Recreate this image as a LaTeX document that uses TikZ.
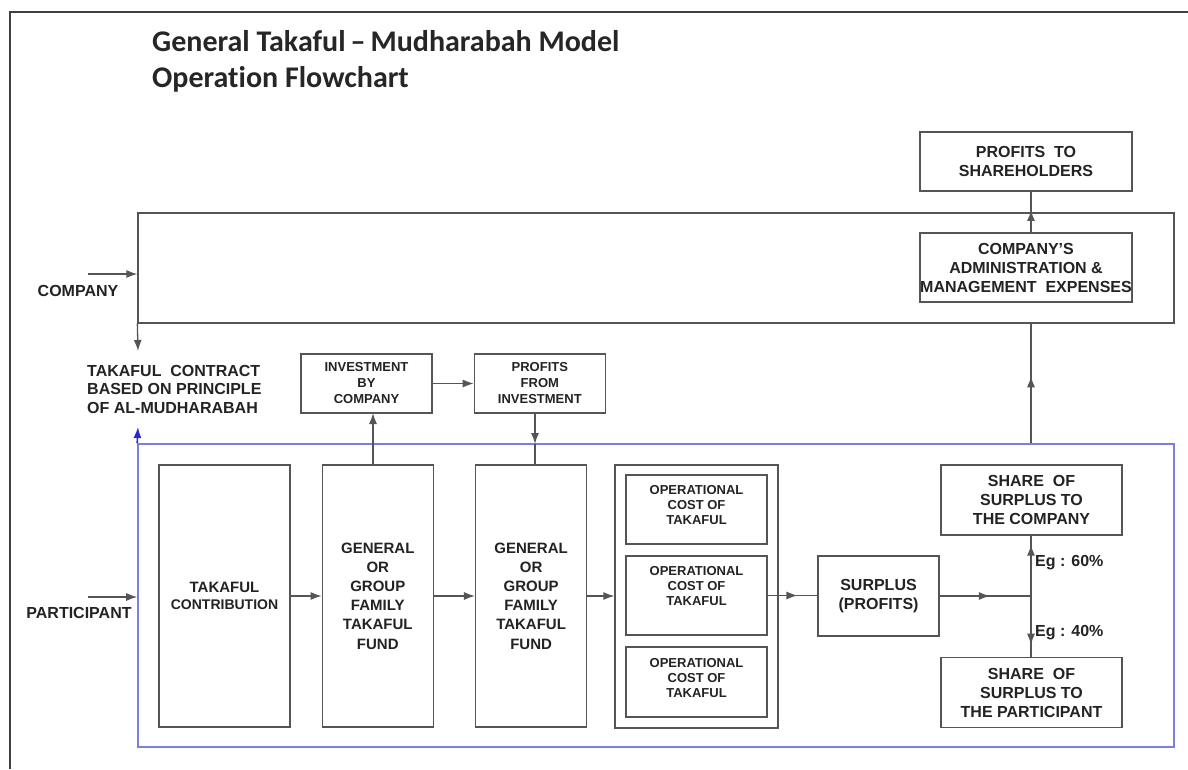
\documentclass[tikz,border=0pt]{standalone}
\usepackage{fontspec}
\setmainfont{Liberation Sans}
\newfontfamily\titlefont[Ligatures=NoCommon]{Carlito}
\usepackage{tikz}
\usetikzlibrary{arrows.meta,calc,positioning,decorations.markings}
\definecolor{boxgray}{RGB}{85,85,85}
\definecolor{txtgray}{RGB}{35,35,35}
\definecolor{partblue}{RGB}{125,125,230}
\definecolor{tipblue}{RGB}{40,40,215}
\tikzset{
        tip/.tip = {Latex[length=11pt,width=8pt]},
        block/.style = {draw=boxgray, rectangle, line width=1.3pt,
            text=txtgray, align=center, inner sep=0pt,
            font=\bfseries\fontsize{16}{19}\selectfont},
        fundbox/.style = {block, minimum width=111pt, minimum height=262pt,
            font=\bfseries\fontsize{15}{19.2}\selectfont},
        smallbox/.style = {block, minimum width=131pt, minimum height=59pt,
            font=\bfseries\fontsize{13}{16}\selectfont},
        costbox/.style = {block, minimum width=141pt,
            font=\bfseries\fontsize{13}{15}\selectfont},
        sharebox/.style = {block, minimum width=181pt, minimum height=70pt},
        sidetext/.style = {text=txtgray, inner sep=0pt,
            font=\bfseries\fontsize{16}{18.5}\selectfont},
        arrow/.style = {draw=boxgray, line width=1.3pt, -tip},
        line/.style = {draw=boxgray, line width=1.3pt},
        midarrow/.style = {line, decoration={markings,
            mark=at position #1 with {\arrow{tip}}}, postaction={decorate}},
    }

\begin{document}
\begin{tikzpicture}[x=1pt,y=-1pt]
    \useasboundingbox[fill=white] (0,0) rectangle (1188,769);
    \draw[line width=1.8pt, draw=black!75] (10,769) -- (10,12) -- (1188,12);

    % heading
    \node[anchor=base west, inner sep=0pt, text=black!85,
          font=\titlefont\bfseries\fontsize{30}{36}\selectfont] (title) at (152,51)
          {General Takaful\,–\,Mudharabah Model};
    \node[anchor=base west, inner sep=0pt, text=black!85,
          font=\titlefont\bfseries\fontsize{30}{36}\selectfont] (subtitle) at (152,87)
          {Operation Flowchart};

    % company and participant frames
    \node[draw=boxgray, line width=1.3pt, minimum width=1036pt, minimum height=110pt]
          (companybox) at (656,268) {};
    \node[draw=partblue, line width=1.6pt, minimum width=1036pt, minimum height=303pt]
          (bluebox) at (656,595.5) {};

    \node[sidetext] (companylbl) at (78,291) {COMPANY};
    \node[sidetext] (partlbl) at (79,613) {PARTICIPANT};
    \node[sidetext, anchor=west, align=left] (contract) at (87,389)
          {TAKAFUL\ \ CONTRACT\\BASED ON PRINCIPLE\\OF AL-MUDHARABAH};

    \coordinate (companyin) at (88,274);
    \coordinate (partin) at (88,597);
    \coordinate (contractin) at (138,351);
    \coordinate (contractout) at (138,427);

    % participant fund row
    \node[fundbox, minimum width=131pt, font=\bfseries\fontsize{15}{17}\selectfont]
          (contrib) at (224.5,596) {TAKAFUL\\\fontsize{14}{17}\selectfont CONTRIBUTION};
    \node[fundbox, right=31pt of contrib] (fundA)
          {GENERAL\\OR\\GROUP\\FAMILY\\TAKAFUL\\FUND};
    \node[fundbox, right=41pt of fundA] (fundB)
          {GENERAL\\OR\\GROUP\\FAMILY\\TAKAFUL\\FUND};
    \node[block, minimum width=163pt, minimum height=263pt] (opsbox) at (696.5,596.5) {};
    \node[costbox, minimum height=69pt] (opsA) at (696.5,509.5) {OPERATIONAL\\COST OF\\TAKAFUL\\[-6pt]};
    \node[costbox, minimum height=79pt] (opsB) at (696.5,595.5) {OPERATIONAL\\COST OF\\TAKAFUL\\[4pt]};
    \node[costbox, minimum height=70pt] (opsC) at (696.5,682) {OPERATIONAL\\COST OF\\TAKAFUL\\[-6pt]};
    \node[block, minimum width=121pt, minimum height=80pt] (surplus) at (878.5,596)
          {SURPLUS\\(PROFITS)};
    \node[sharebox] (shareco) at (1031.5,500) {SHARE\ \ OF\\SURPLUS\ TO\\THE COMPANY};
    \node[sharebox] (sharept) at (1031.5,692.5) {SHARE\ \ OF\\SURPLUS\ TO\\THE PARTICIPANT};
    \coordinate (split) at (1031,596);

    % investment
    \node[smallbox] (invest) at (366.5,383.5) {INVESTMENT\\BY\\COMPANY};
    \node[smallbox, right=41pt of invest] (profits) {PROFITS\\FROM\\INVESTMENT};

    % company side
    \node[block, minimum width=212pt, minimum height=59pt] (holders) at (1026,161.5)
          {PROFITS\ \ TO\\SHAREHOLDERS};
    \node[block, minimum width=212pt, minimum height=69pt] (admin) at (1026,267.5)
          {COMPANY'S\\ADMINISTRATION\ \&\\MANAGEMENT\ \ EXPENSES};

    % connections
    \draw[arrow] (companyin) -- (companyin -| companybox.west);
    \draw[arrow] (partin) -- (partin -| bluebox.west);
    \draw[arrow] (companybox.south west) -- (contractin);
    \draw[draw=partblue, line width=1.6pt, -tip, tipblue]
          (bluebox.north west) -- (contractout);

    \draw[arrow] (contrib.east) -- (contrib.east -| fundA.west);
    \draw[arrow] (fundA.east) -- (fundA.east -| fundB.west);
    \draw[arrow] (fundB.east) -- (fundB.east -| opsbox.west);
    \draw[midarrow=0.6] (opsB.east) -- (opsB.east -| surplus.west);
    \draw[midarrow=0.55] (surplus.east) -- (split);
    \draw[midarrow=0.85] (split) -- (split |- shareco.south);
    \draw[midarrow=0.8] (split) -- (split |- sharept.north);
    \node[sidetext, anchor=west] (eg60) at (1035,563) {Eg : 60\%};
    \node[sidetext, anchor=west] (eg40) at (1035,633) {Eg : 40\%};

    \draw[arrow] (373,465) -- (373,413);
    \draw[arrow] (invest.east) -- (profits.west);
    \draw[arrow] (535,413) -- (535,444);
    \draw[line] (535,444) -- (535,465);

    \draw[midarrow=0.56] (split |- bluebox.north) -- (split |- companybox.south);
    \draw[midarrow=0.55] (split |- admin.north) -- (split |- holders.south);
\end{tikzpicture}
\end{document}
